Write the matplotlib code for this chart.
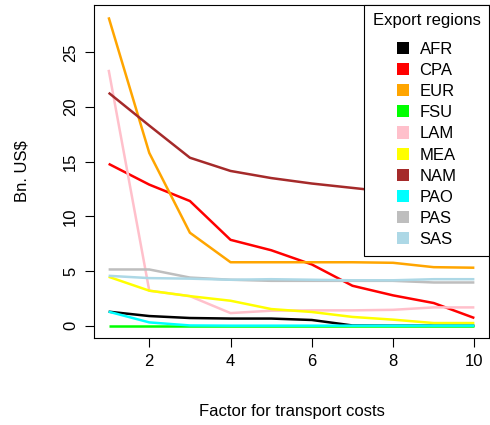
import matplotlib
matplotlib.use("Agg")
import matplotlib.pyplot as plt
from matplotlib.patches import Patch

plt.rcParams['font.family'] = ['Liberation Sans', 'DejaVu Sans']

factor = [1, 2, 3, 4, 5, 6, 7, 8, 9, 10]
regions = ["AFR", "CPA", "EUR", "FSU", "LAM", "MEA", "NAM", "PAO", "PAS", "SAS"]
colors = ["black", "red", "orange", "#00ff00", "pink", "yellow", "#a52a2a", "cyan", "#bebebe", "lightblue"]

AFR = [1.28, 0.88, 0.70, 0.65, 0.65, 0.52, 0.02, 0.0, 0.0, 0.0]
CPA = [14.8, 12.9, 11.4, 7.85, 6.9, 5.6, 3.65, 2.77, 2.07, 0.7]
EUR = [28.2, 15.8, 8.5, 5.8, 5.8, 5.8, 5.8, 5.75, 5.35, 5.3]
FSU = [0.0, 0.0, 0.0, 0.0, 0.0, 0.0, 0.0, 0.0, 0.0, 0.0]
LAM = [23.4, 3.2, 2.7, 1.15, 1.37, 1.4, 1.4, 1.45, 1.67, 1.67]
MEA = [4.47, 3.2, 2.7, 2.28, 1.52, 1.25, 0.8, 0.55, 0.24, 0.24]
NAM = [21.3, 18.3, 15.36, 14.15, 13.5, 13.0, 12.6, 12.2, 13.0, 11.7]
PAO = [1.28, 0.3, 0.02, 0.0, 0.0, 0.0, 0.0, 0.0, 0.0, 0.0]
PAS = [5.14, 5.14, 4.4, 4.2, 4.1, 4.1, 4.1, 4.1, 3.95, 3.95]
SAS = [4.56, 4.35, 4.3, 4.2, 4.25, 4.2, 4.15, 4.15, 4.25, 4.25]
series = [AFR, CPA, EUR, FSU, LAM, MEA, NAM, PAO, PAS, SAS]

FS = 12
fig = plt.figure(figsize=(4.9, 4.25), dpi=100)
ax = fig.add_axes([94/490, 1-338/425, 395/490, 333/425])

for vals, c in zip(series, colors):
    ax.plot(factor, vals, color=c, lw=1.8, solid_capstyle='butt')

ymax = max(max(s) for s in series)
ax.set_xlim(1 - 0.04*9, 10 + 0.04*9)
ax.set_ylim(0 - 0.04*ymax, ymax + 0.04*ymax)
ax.set_xticks([2, 4, 6, 8, 10])
ax.set_yticks([0, 5, 10, 15, 20, 25])
ax.tick_params(direction='out', length=6.5, width=0.8, labelsize=FS, pad=5)
for lab in ax.get_yticklabels():
    lab.set_rotation(90)
    lab.set_va('center')
for sp in ax.spines.values():
    sp.set_linewidth(0.8)

ax.set_xlabel("Factor for transport costs", fontsize=FS, labelpad=25)
ax.set_ylabel("Bn. US$", fontsize=FS, labelpad=24)

handles = [Patch(facecolor=c, edgecolor='none') for c in colors]
leg = ax.legend(handles, regions, title="Export regions", loc='upper right',
                borderaxespad=0, fancybox=False, framealpha=1, edgecolor='black',
                fontsize=FS, title_fontsize=FS, handlelength=0.75, handleheight=0.75,
                labelspacing=0.37, handletextpad=0.6, borderpad=0.5)
leg._legend_box.sep = 0.8 * FS
leg.get_frame().set_linewidth(0.8)

fig.savefig("out.png", dpi=100)
